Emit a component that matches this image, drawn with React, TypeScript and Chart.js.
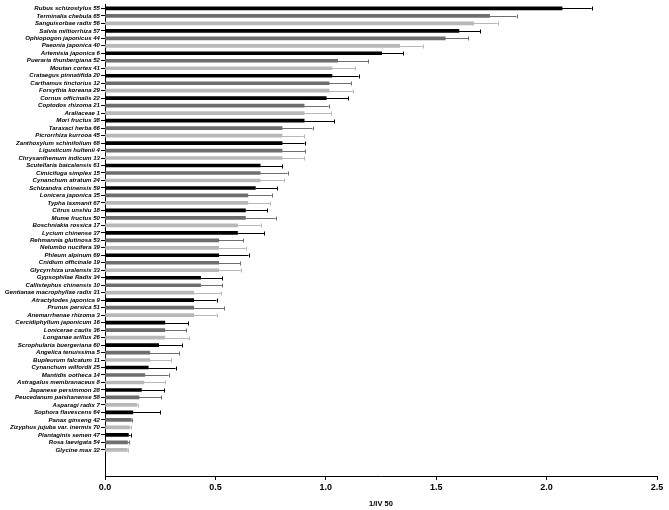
import React, { useEffect, useRef } from 'react';
import { Chart, registerables } from 'chart.js';

Chart.register(...registerables);

const categories = [
  'Rubus schizostylus 55', 'Terminalia chebula 65', 'Sanguisorbae radix 56', 'Salvia miltiorrhiza 57',
  'Ophiopogon japonicus 44', 'Paeonia japonica 40', 'Artemisia japonica 6', 'Pueraria thunbergiana 52',
  'Moutan cortex 41', 'Crataegus pinnatifida 20', 'Carthamus tinctorius 12', 'Forsythia koreana 29',
  'Cornus officinalis 22', 'Coptodos rhizoma 21', 'Araliaceae 1', 'Mori fructus 38',
  'Taraxaci herba 66', 'Picrorrhiza kurrooa 45', 'Zanthoxylum schinifolium 68', 'Ligusticum hultenii 4',
  'Chrysanthemum indicum 13', 'Scutellaria baicalensis 61', 'Cimicifuga simplex 15', 'Cynanchum atratum 24',
  'Schizandra chinensis 59', 'Lonicera japonica 35', 'Typha laxmanit 67', 'Citrus unshiu 18',
  'Mume fructus 50', 'Boschniakia rossica 17', 'Lycium chinense 37', 'Rehmannia glutinosa 53',
  'Nelumbo nucifera 39', 'Phleum alpinum 69', 'Cnidium officinale 19', 'Glycyrrhiza uralensis 33',
  'Gypsophilae Radix 34', 'Callistephus chinensis 10', 'Gentianae macrophyllae radix 31', 'Atractylodes japonica 9',
  'Prunus persica 51', 'Anemarrhenae rhizoma 3', 'Cercidiphyllum japonicum 16', 'Lonicerae caulis 36',
  'Longanae arillus 26', 'Scrophularia buergeriana 60', 'Angelica tenuissima 5', 'Bupleurum falcatum 11',
  'Cynanchum wilfordii 25', 'Mantidis ootheca 14', 'Astragalus membranaceus 8', 'Japanese persimmon 28',
  'Peucedanum paishanense 58', 'Asparagi radix 7', 'Sophora flavescens 64', 'Panax ginseng 42',
  'Zizyphus jujuba var. inermis 70', 'Plantaginis semen 47', 'Rosa laevigata 54', 'Glycine max 32',
];

const values = [
  2.070, 1.742, 1.670, 1.603, 1.541, 1.335, 1.253, 1.054,
  1.028, 1.028, 1.015, 1.015, 1.002, 0.902, 0.902, 0.902,
  0.802, 0.802, 0.802, 0.802, 0.802, 0.703, 0.703, 0.703,
  0.681, 0.647, 0.647, 0.636, 0.636, 0.600, 0.600, 0.515,
  0.515, 0.515, 0.515, 0.515, 0.433, 0.433, 0.402, 0.402,
  0.402, 0.402, 0.271, 0.271, 0.271, 0.243, 0.203, 0.203,
  0.196, 0.180, 0.176, 0.165, 0.154, 0.144, 0.126, 0.119,
  0.111, 0.106, 0.102, 0.101,
];

const errors = [
  0.134, 0.122, 0.108, 0.096, 0.104, 0.105, 0.097, 0.139,
  0.106, 0.121, 0.101, 0.109, 0.099, 0.111, 0.123, 0.137,
  0.138, 0.098, 0.102, 0.105, 0.098, 0.099, 0.124, 0.107,
  0.100, 0.108, 0.100, 0.098, 0.137, 0.106, 0.121, 0.111,
  0.122, 0.135, 0.098, 0.103, 0.098, 0.098, 0.124, 0.103,
  0.137, 0.105, 0.106, 0.097, 0.110, 0.105, 0.134, 0.096,
  0.124, 0.108, 0.097, 0.103, 0.101, 0.004, 0.124, 0.004,
  0.008, 0.010, 0.007, 0.005,
];

const xTicks = [0, 0.5, 1.0, 1.5, 2.0, 2.5];
const xTitle = '1/IV 50';
const padCount = 3;
const palette = ['#000000', '#6e6e6e', '#b8b8b8'];

export default function App() {
  const ref = useRef<HTMLCanvasElement>(null);

  useEffect(() => {
    const labels = [...categories, ...Array(padCount).fill('')];
    const data = [...values, ...Array(padCount).fill(null)];
    const colors = labels.map((_, i) => palette[i % 3]);

    const errorBars = {
      id: 'errorBars',
      afterDatasetsDraw(chart: any) {
        const meta = chart.getDatasetMeta(0);
        const xs = chart.scales.x;
        const ctx = chart.ctx;
        ctx.save();
        meta.data.forEach((el: any, i: number) => {
          if (i >= values.length) return;
          const x0 = xs.getPixelForValue(values[i]);
          const x1 = xs.getPixelForValue(values[i] + errors[i]);
          const y = Math.round(el.y) + 0.5;
          ctx.strokeStyle = colors[i];
          ctx.lineWidth = 1;
          ctx.beginPath();
          ctx.moveTo(x0, y);
          ctx.lineTo(x1, y);
          ctx.moveTo(Math.round(x1) + 0.5, y - 2);
          ctx.lineTo(Math.round(x1) + 0.5, y + 2);
          ctx.stroke();
        });
        ctx.restore();
      },
    };

    const chart = new Chart(ref.current as HTMLCanvasElement, {
      type: 'bar',
      data: {
        labels,
        datasets: [
          {
            data,
            backgroundColor: colors,
            borderWidth: 0,
            barThickness: 3,
          },
        ],
      },
      options: {
        indexAxis: 'y',
        responsive: false,
        animation: false,
        devicePixelRatio: 1,
        layout: { padding: { top: 4, right: 12, bottom: 0, left: 0 } },
        plugins: {
          legend: { display: false },
          tooltip: { enabled: false },
        },
        scales: {
          y: {
            type: 'category',
            offset: true,
            afterFit: (s: any) => { s.width = 105; },
            grid: {
              offset: false,
              drawOnChartArea: false,
              tickLength: 4,
              color: (c: any) => (c.index >= categories.length ? 'rgba(0,0,0,0)' : '#000'),
            },
            border: { color: '#000', width: 1 },
            ticks: {
              autoSkip: false,
              padding: 1,
              color: '#000',
              font: { family: 'Liberation Sans', size: 6.1, style: 'italic', weight: 'bold' },
            },
          },
          x: {
            type: 'linear',
            min: 0,
            max: 2.5,
            afterFit: (s: any) => { s.height = 34; },
            afterBuildTicks: (s: any) => { s.ticks = xTicks.map((v) => ({ value: v })); },
            grid: { drawOnChartArea: false, tickLength: 4, color: '#000' },
            border: { color: '#000', width: 1 },
            ticks: {
              padding: 2,
              color: '#000',
              maxRotation: 0,
              callback: (v: any) => Number(v).toFixed(1),
              font: { family: 'Liberation Sans', size: 9, weight: 'bold' },
            },
            title: {
              display: true,
              text: xTitle,
              color: '#000',
              padding: { top: 0, bottom: 2 },
              font: { family: 'Liberation Sans', size: 7.5, weight: 'bold' },
            },
          },
        },
      },
      plugins: [errorBars],
    });
    return () => chart.destroy();
  }, []);

  return (
    <div style={{ position: 'absolute', left: 0, top: 0, width: 669, height: 510, background: '#fff' }}>
      <canvas ref={ref} width={669} height={510} style={{ display: 'block' }} />
    </div>
  );
}
